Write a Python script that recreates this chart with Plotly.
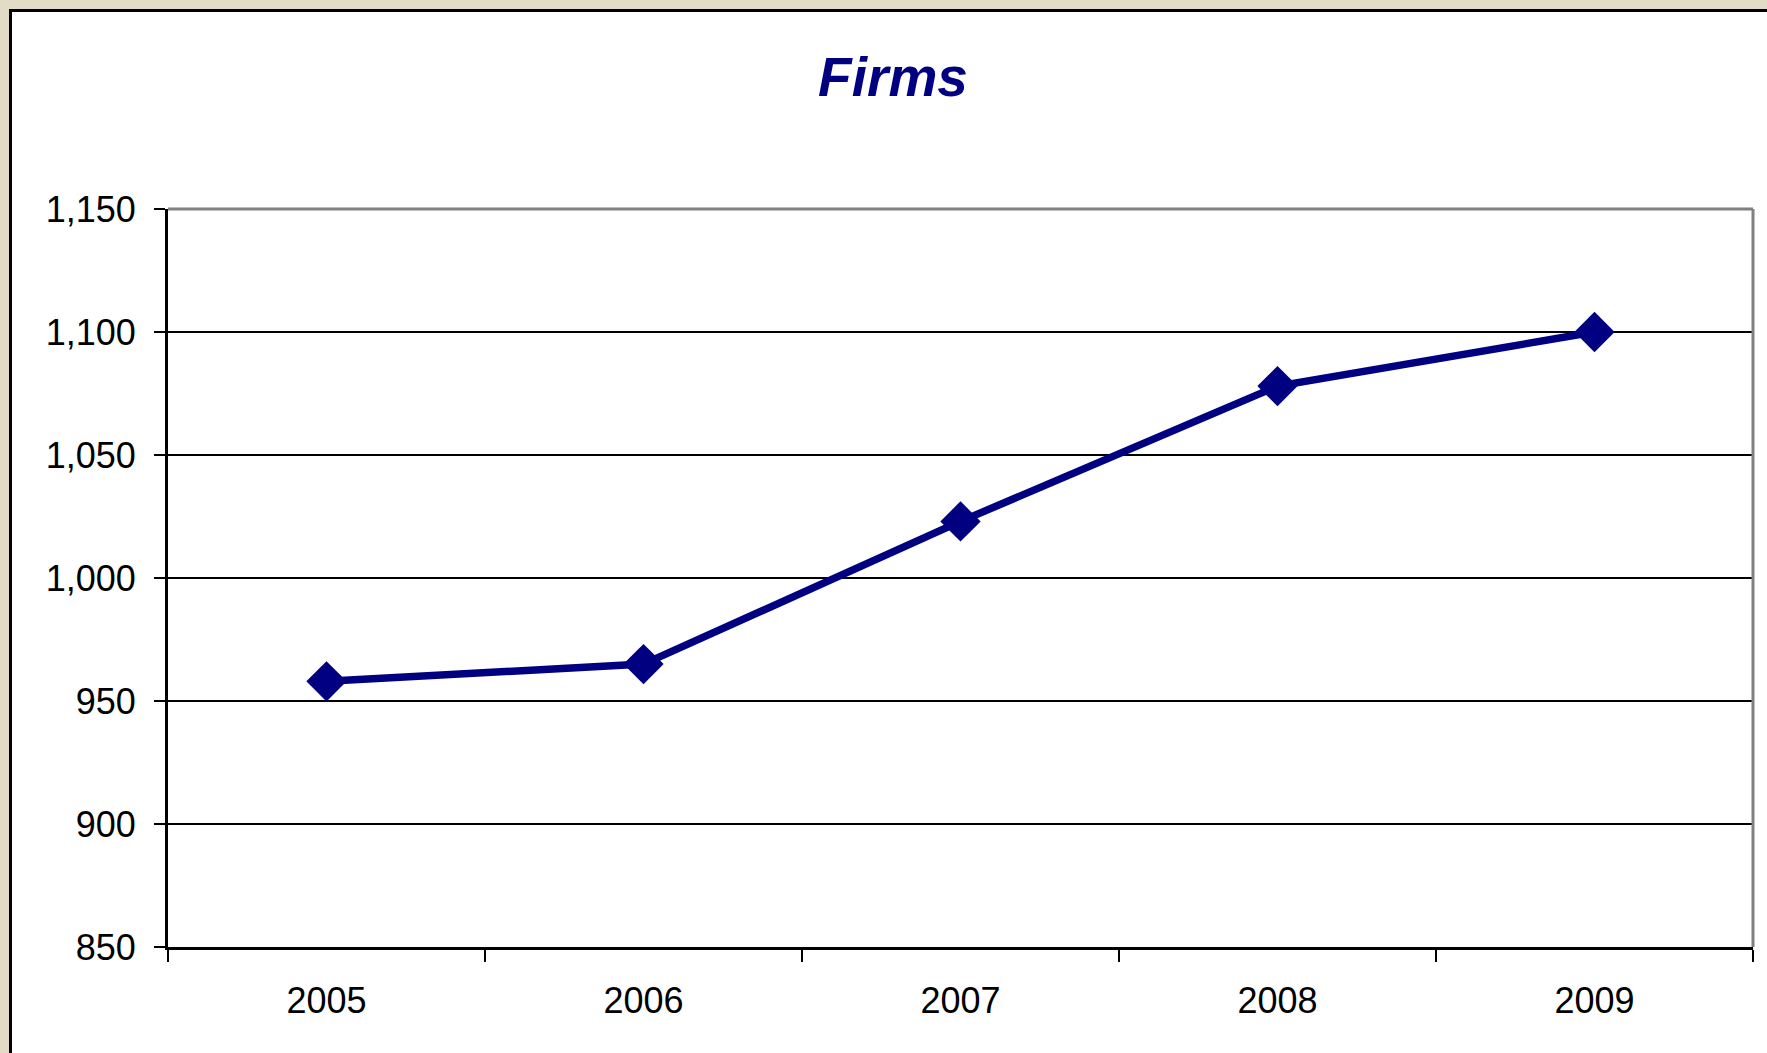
import plotly.graph_objects as go

years = ["2005", "2006", "2007", "2008", "2009"]
firms = [958, 965, 1023, 1078, 1100]
y_ticks = [850, 900, 950, 1000, 1050, 1100, 1150]
y_tick_labels = ["850", "900", "950", "1,000", "1,050", "1,100", "1,150"]
title_text = "Firms"

W, H = 1767, 1053
L, R, T, B = 168, 14, 209, 106
pw, ph = W - L - R, H - T - B

def px_to_paper_x(X):
    return (X - L) / pw

def px_to_paper_y(Y):
    return (H - B - Y) / ph

fig = go.Figure()
fig.add_trace(go.Scatter(
    x=years, y=firms, mode="lines+markers",
    line=dict(color="#000080", width=7.5),
    marker=dict(symbol="diamond", size=31, color="#000080"),
    cliponaxis=False,
))

font = "Liberation Sans, Arial, sans-serif"
fig.update_layout(
    width=W, height=H,
    margin=dict(l=L, r=R, t=T, b=B),
    paper_bgcolor="rgb(226,220,199)",
    plot_bgcolor="white",
    showlegend=False,
    title=dict(text="<b><i>" + title_text + "</i></b>", x=893 / W, xanchor="center",
               y=1 - 77 / H, yanchor="middle",
               font=dict(family=font, size=55, color="#000080")),
    xaxis=dict(type="category", tickson="boundaries", ticks="outside", ticklen=12,
               tickwidth=2, tickcolor="black", showgrid=False, showline=True,
               linecolor="black", linewidth=3, zeroline=False,
               range=[-0.5, len(years) - 0.5],
               tickfont=dict(family=font, size=36, color="black"),
               ticklabelstandoff=20),
    yaxis=dict(range=[850, 1150], tickvals=y_ticks, ticktext=y_tick_labels,
               ticks="outside", ticklen=11, tickwidth=2, tickcolor="black",
               showgrid=True, gridcolor="black", gridwidth=2, showline=True,
               linecolor="black", linewidth=3, zeroline=False,
               tickfont=dict(family=font, size=36, color="black"),
               ticklabelstandoff=11),
    shapes=[
        # white chart area with black frame
        dict(type="rect", xref="paper", yref="paper", layer="below",
             x0=px_to_paper_x(10.5), x1=px_to_paper_x(1800),
             y0=px_to_paper_y(1100), y1=px_to_paper_y(10.5),
             fillcolor="white", line=dict(color="black", width=3)),
        # gray plot border top and right
        dict(type="line", xref="paper", yref="paper", x0=0, x1=1, y0=1, y1=1,
             line=dict(color="#808080", width=3)),
        dict(type="line", xref="paper", yref="paper", x0=1, x1=1, y0=0, y1=1,
             line=dict(color="#808080", width=3)),
    ],
)

fig.write_html(
    "out.html",
    config={"displayModeBar": False},
    post_script="document.body.style.margin='0px';"
                "document.body.style.background='rgb(226,220,199)';",
)
